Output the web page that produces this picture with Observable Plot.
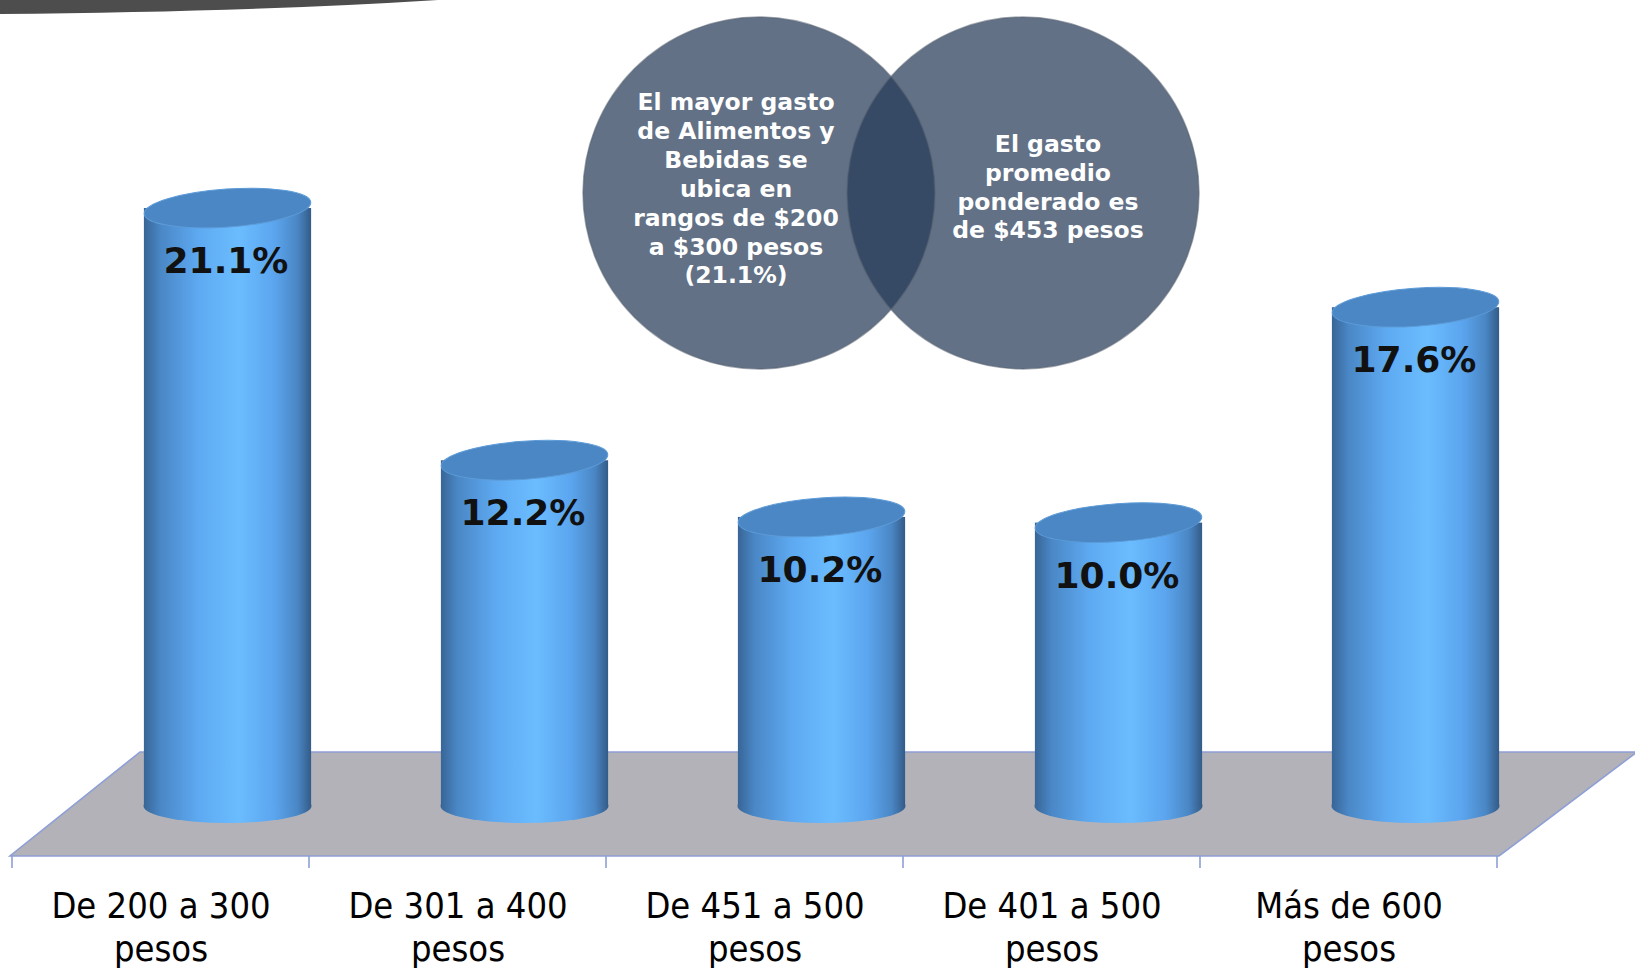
<!DOCTYPE html>
<html>
<head>
<meta charset="utf-8">
<script src="https://cdn.jsdelivr.net/npm/d3@7"></script>
<script src="https://cdn.jsdelivr.net/npm/@observablehq/plot@0.6"></script>
<style>
  html, body { margin: 0; padding: 0; background: #ffffff; overflow: hidden; }
  #chart svg { display: block; }
</style>
</head>
<body>
<div id="chart"></div>
<script>
// ---------- data ----------
const categories = ["De 200 a 300 pesos", "De 301 a 400 pesos", "De 451 a 500 pesos", "De 401 a 500 pesos", "Más de 600 pesos"];
const axisLabels = ["De 200 a 300\npesos", "De 301 a 400\npesos", "De 451 a 500\npesos", "De 401 a 500\npesos", "Más de 600\npesos"];
const values = [21.1, 12.2, 10.2, 10.0, 17.6];
const valueLabels = ["21.1%", "12.2%", "10.2%", "10.0%", "17.6%"];
const calloutLeft = ["El mayor gasto", "de Alimentos y", "Bebidas se", "ubica en", "rangos de $200", "a $300 pesos", "(21.1%)"];
const calloutRight = ["El gasto", "promedio", "ponderado es", "de $453 pesos"];

const rows = categories.map((c, i) => ({cat: c, value: values[i], label: valueLabels[i], axis: axisLabels[i]}));

// ---------- geometry / style ----------
const CYL_DX = 67;          // 3D depth shift of cylinders relative to band centre
const CYL_W = 168;          // cylinder width
const TOP_RY = 19, BOT_RY = 17, TILT = -4;
const FLOOR_FRONT = 50, FLOOR_BACK = -54, FLOOR_DEPTH_X = 132;
const NS = "http://www.w3.org/2000/svg";

function el(name, attrs) {
  const e = document.createElementNS(NS, name);
  for (const k in attrs) e.setAttribute(k, attrs[k]);
  return e;
}

function defsMark() {
  const g = el("g", {});
  const defs = el("defs", {});
  const grad = el("linearGradient", {id: "cylGrad", x1: "0", y1: "0", x2: "1", y2: "0"});
  [["0%", "#386596"], ["10%", "#4a87c6"], ["33%", "#5eaaf2"], ["57%", "#6bbcff"], ["78%", "#5ba5ee"], ["92%", "#4a86c4"], ["100%", "#335b88"]]
    .forEach(([o, c]) => grad.appendChild(el("stop", {offset: o, "stop-color": c})));
  defs.appendChild(grad);
  g.appendChild(defs);
  // decorative dark swoosh at the top-left
  g.appendChild(el("path", {d: "M0,0 L438,0 Q250,12 0,14 Z", fill: "#4d4d4d"}));
  return g;
}

function floorMark(index, scales) {
  const x = scales.x, y = scales.y;
  const [r0, r1] = x.range();
  const bw = x.bandwidth();
  const front = y(0) + FLOOR_FRONT, back = y(0) + FLOOR_BACK;
  const g = el("g", {});
  g.appendChild(el("polygon", {
    points: `${r0},${front} ${r1},${front} ${r1 + FLOOR_DEPTH_X + 6},${back} ${r0 + FLOOR_DEPTH_X - 2},${back}`,
    fill: "#b2b2b8", stroke: "#8e9fd6", "stroke-width": 1.6, "stroke-linejoin": "miter"
  }));
  const ticks = x.domain().map(d => x(d)).concat([x(x.domain()[x.domain().length - 1]) + bw]);
  ticks.forEach(t => g.appendChild(el("line", {x1: t, x2: t, y1: front, y2: front + 12, stroke: "#8e9fd6", "stroke-width": 1.6})));
  return g;
}

function bottomEllipses(index, scales) {
  const x = scales.x, y = scales.y, bw = x.bandwidth();
  const g = el("g", {});
  rows.forEach(r => {
    const cx = x(r.cat) + bw / 2 + CYL_DX, cy = y(0);
    g.appendChild(el("ellipse", {cx, cy, rx: CYL_W / 2, ry: BOT_RY, fill: "url(#cylGrad)"}));
  });
  return g;
}

function topEllipses(index, scales) {
  const x = scales.x, y = scales.y, bw = x.bandwidth();
  const g = el("g", {});
  rows.forEach(r => {
    const cx = x(r.cat) + bw / 2 + CYL_DX, cy = y(r.value);
    g.appendChild(el("ellipse", {cx, cy, rx: CYL_W / 2 - 0.5, ry: TOP_RY, fill: "#4a87c4", stroke: "#5d9bd8", "stroke-width": 1, transform: `rotate(${TILT},${cx},${cy})`}));
  });
  return g;
}

function callouts() {
  const g = el("g", {});
  const circles = [[759, 193], [1023, 193]];
  circles.forEach(([cx, cy]) => {
    g.appendChild(el("circle", {cx, cy, r: 176, fill: "#283c59", "fill-opacity": 0.73}));
  });
  circles.forEach(([cx, cy]) => {
    g.appendChild(el("circle", {cx, cy, r: 176, fill: "none", stroke: "#55606f", "stroke-opacity": 0.55, "stroke-width": 1.5}));
  });
  const addLines = (lines, cx, y0, step) => {
    lines.forEach((t, i) => {
      const tx = el("text", {x: cx, y: y0 + i * step, "text-anchor": "middle", fill: "#ffffff",
        "font-family": "'DejaVu Sans', Verdana, sans-serif", "font-weight": "bold", "font-size": 23.5});
      tx.textContent = t;
      g.appendChild(tx);
    });
  };
  addLines(calloutLeft, 736, 110, 28.9);
  addLines(calloutRight, 1048, 152, 28.8);
  return g;
}

const bw0 = (1499 - 10) / categories.length;
const inset = (bw0 - CYL_W) / 2;

const chart = Plot.plot({
  width: 1635,
  height: 973,
  margin: 0,
  style: {background: "transparent", overflow: "visible"},
  x: {type: "band", domain: categories, range: [10, 1499], padding: 0, axis: null},
  y: {type: "linear", domain: [0, 25], range: [806, 97.5], axis: null},
  marks: [
    defsMark,
    floorMark,
    bottomEllipses,
    Plot.barY(rows, {x: "cat", y: "value", dx: CYL_DX, insetLeft: inset, insetRight: inset, fill: "url(#cylGrad)"}),
    topEllipses,
    Plot.text(rows, {x: "cat", y: "value", text: "label", dx: CYL_DX - 2, dy: 53,
      fontSize: 36, fontWeight: "bold", fontFamily: "'DejaVu Sans', Verdana, sans-serif", fill: "#111111"}),
    Plot.text(rows, {x: "cat", y: () => 0, text: "axis", dy: 82, lineAnchor: "top", lineHeight: 1.17,
      fontSize: 36, fontFamily: "Tahoma, 'DejaVu Sans Condensed', 'Liberation Sans', sans-serif", fill: "#000000"}),
    callouts
  ]
});
document.getElementById("chart").appendChild(chart);
</script>
</body>
</html>
